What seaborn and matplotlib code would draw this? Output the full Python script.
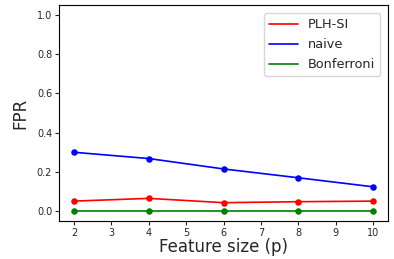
import numpy as np
import pandas as pd
import matplotlib
matplotlib.use("Agg")
import matplotlib.pyplot as plt
import seaborn as sns

sns.set_style("white")
plt.rcParams['font.family'] = ['DejaVu Sans']

# values
feature_size = [2, 4, 6, 8, 10]
fpr_plh_si = [0.051, 0.065, 0.043, 0.048, 0.051]
fpr_naive = [0.300, 0.268, 0.215, 0.170, 0.124]
fpr_bonferroni = [0.0, 0.0, 0.0, 0.0, 0.0]

methods = ["PLH-SI", "naive", "Bonferroni"]
colors = {"PLH-SI": "red", "naive": "blue", "Bonferroni": "green"}

df = pd.DataFrame({
    "p": feature_size * 3,
    "FPR": fpr_plh_si + fpr_naive + fpr_bonferroni,
    "method": ["PLH-SI"] * 5 + ["naive"] * 5 + ["Bonferroni"] * 5,
})

fig, ax = plt.subplots(figsize=(3.94, 2.59), dpi=100)
fig.subplots_adjust(left=0.15, right=0.985, bottom=0.147, top=0.98)

for m in methods:
    sub = df[df["method"] == m]
    sns.lineplot(data=sub, x="p", y="FPR", color=colors[m], label=m, lw=1.2, ax=ax)
    sns.scatterplot(data=sub, x="p", y="FPR", color=colors[m], s=22, edgecolor=colors[m],
                    linewidth=0, legend=False, ax=ax, zorder=3)

ax.set_ylim(-0.05, 1.05)
ax.set_xticks(range(2, 11))
ax.tick_params(axis="both", labelsize=7, length=3, width=0.8, bottom=True, left=True, pad=2)
for s in ax.spines.values():
    s.set_color("black")
    s.set_linewidth(0.8)
ax.set_xlabel("Feature size (p)", fontsize=12, labelpad=0)
ax.set_ylabel("FPR", fontsize=12, labelpad=5)
leg = ax.legend(loc="upper right", fontsize=9.3, frameon=True, handlelength=2.2,
                labelspacing=0.55, borderaxespad=0.6)
leg.get_frame().set_edgecolor("#cccccc")

fig.savefig("out.png", dpi=100)
